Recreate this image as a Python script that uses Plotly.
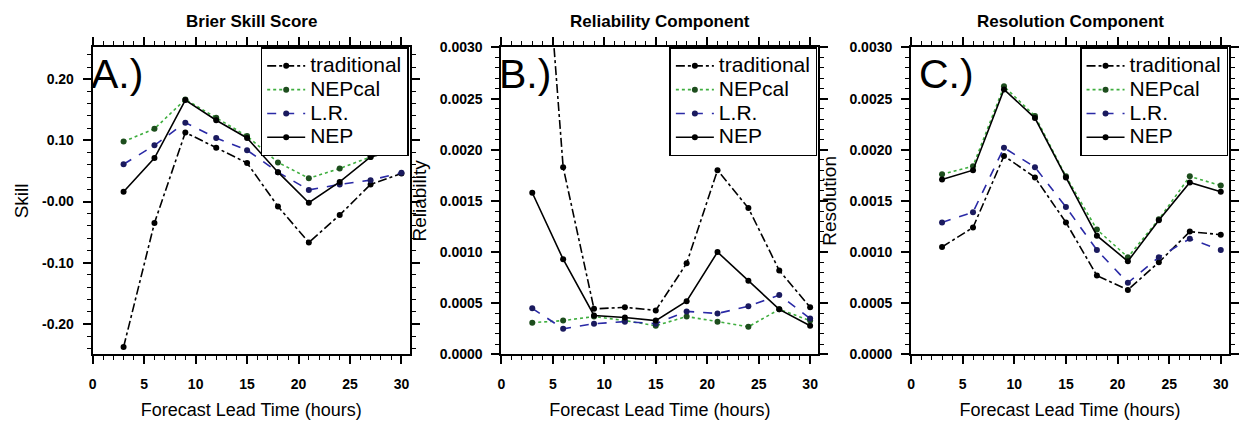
import plotly.graph_objects as go

hours = [3, 6, 9, 12, 15, 18, 21, 24, 27, 30]
series_names = ["traditional", "NEPcal", "L.R.", "NEP"]

bss_traditional = [-0.238, -0.035, 0.113, 0.088, 0.063, -0.008, -0.067, -0.022, 0.028, 0.046]
bss_nepcal = [0.098, 0.119, 0.167, 0.137, 0.107, 0.064, 0.038, 0.054, 0.073, 0.087]
bss_lr = [0.061, 0.092, 0.129, 0.104, 0.084, 0.048, 0.019, 0.028, 0.035, 0.047]
bss_nep = [0.016, 0.071, 0.166, 0.133, 0.104, 0.048, -0.002, 0.032, 0.073, 0.086]

rel_traditional = [0.0058, 0.00183, 0.000445, 0.00046, 0.00043, 0.00089, 0.0018, 0.00143, 0.00082, 0.00046]
rel_nepcal = [0.00031, 0.00033, 0.00037, 0.00033, 0.00028, 0.00037, 0.00032, 0.00027, 0.00044, 0.00033]
rel_lr = [0.00045, 0.00025, 0.00030, 0.00032, 0.00030, 0.00042, 0.00040, 0.00047, 0.00058, 0.00035]
rel_nep = [0.00158, 0.00093, 0.00038, 0.00036, 0.00033, 0.00052, 0.00100, 0.00072, 0.00044, 0.00028]

res_traditional = [0.00105, 0.00124, 0.00194, 0.00173, 0.00129, 0.00077, 0.00063, 0.00090, 0.00120, 0.00117]
res_nepcal = [0.00176, 0.00184, 0.00262, 0.00233, 0.00174, 0.00122, 0.00095, 0.00132, 0.00174, 0.00165]
res_lr = [0.00129, 0.00139, 0.00202, 0.00183, 0.00144, 0.00102, 0.00070, 0.00095, 0.00113, 0.00102]
res_nep = [0.00171, 0.00180, 0.00259, 0.00231, 0.00173, 0.00116, 0.00091, 0.00131, 0.00168, 0.00159]

panel_titles = ["Brier Skill Score", "Reliability Component", "Resolution Component"]
panel_labels = ["A.)", "B.)", "C.)"]
y_titles = ["Skill", "Reliability", "Resolution"]
x_title = "Forecast Lead Time (hours)"
x_tickvals = [0, 5, 10, 15, 20, 25, 30]
bss_tickvals = [-0.2, -0.1, 0.0, 0.1, 0.2]
bss_ticktext = ["-0.20", "-0.10", "-0.00", "0.10", "0.20"]
comp_tickvals = [0.0, 0.0005, 0.001, 0.0015, 0.002, 0.0025, 0.003]
comp_ticktext = ["0.0000", "0.0005", "0.0010", "0.0015", "0.0020", "0.0025", "0.0030"]

W, H = 1241, 423
FONT = "Liberation Sans, Arial, Helvetica, sans-serif"

# pixel geometry of plot areas
px_left = [89, 499, 910]
px_right = [407, 817, 1229]
px_top, px_bottom = 41, 360

styles = {
    "traditional": dict(color="#000000", dash="dashdot", mcolor="#000000"),
    "NEPcal": dict(color="#3fae3f", dash="dot", mcolor="#1d4d1d"),
    "L.R.": dict(color="#2a2aa6", dash="dash", mcolor="#1a1a5e"),
    "NEP": dict(color="#000000", dash="solid", mcolor="#000000"),
}

panels = [
    [bss_traditional, bss_nepcal, bss_lr, bss_nep],
    [rel_traditional, rel_nepcal, rel_lr, rel_nep],
    [res_traditional, res_nepcal, res_lr, res_nep],
]

LEGEND_TEXT_SIZE = 21

fig = go.Figure()
for p, data in enumerate(panels):
    ax = "" if p == 0 else str(p + 1)
    leg = "legend" if p == 0 else f"legend{p + 1}"
    for name, vals in zip(series_names, data):
        st = styles[name]
        fig.add_trace(go.Scatter(
            x=hours, y=vals,
            name=f"<span style='font-size:{LEGEND_TEXT_SIZE}px'>{name}</span>",
            mode="lines+markers",
            line=dict(color=st["color"], dash=st["dash"], width=1.6),
            marker=dict(symbol="circle", size=6, color=st["mcolor"]),
            xaxis="x" + ax, yaxis="y" + ax, legend=leg,
        ))

layout = dict(
    width=W, height=H, margin=dict(l=0, r=0, t=0, b=0),
    paper_bgcolor="white", plot_bgcolor="white",
    font=dict(family=FONT, color="black"),
    showlegend=True,
)

ydom = [1 - px_bottom / H, 1 - px_top / H]
annotations = []
for p in range(3):
    ax = "" if p == 0 else str(p + 1)
    xdom = [px_left[p] / W, px_right[p] / W]
    common = dict(
        showline=True, linecolor="black", linewidth=2, mirror="ticks",
        ticks="outside", ticklen=8, tickwidth=1.5, tickcolor="black",
        showgrid=False, zeroline=False,
        tickfont=dict(family=FONT, size=14, color="black", weight="bold"),
    )
    layout["xaxis" + ax] = dict(
        common, domain=xdom, range=[0, 30.8], tickvals=x_tickvals,
        minor=dict(dtick=1, tick0=0, ticks="outside", ticklen=4, tickcolor="black", tickwidth=1),
        anchor="y" + ax, ticklabelstandoff=8,
        title=dict(text=x_title, font=dict(family=FONT, size=18, color="black"), standoff=12),
    )
    if p == 0:
        yr = [-0.25, 0.252]
        tv, tt = bss_tickvals, bss_ticktext
        mdt = 0.02
    else:
        yr = [0, 0.003]
        tv, tt = comp_tickvals, comp_ticktext
        mdt = 0.0001
    layout["yaxis" + ax] = dict(
        common, domain=ydom, range=yr, tickvals=tv, ticktext=tt,
        minor=dict(dtick=mdt, tick0=0, ticks="outside", ticklen=4, tickcolor="black", tickwidth=1),
        anchor="x" + ax, ticklabelstandoff=6,
        title=dict(text=y_titles[p], font=dict(family=FONT, size=19, color="black"), standoff=8),
    )
    leg = "legend" if p == 0 else f"legend{p + 1}"
    layout[leg] = dict(
        x=(px_right[p] - 1) / W, xanchor="right", y=ydom[1], yanchor="top",
        xref="paper", yref="paper",
        bgcolor="white", bordercolor="black", borderwidth=1.5,
        font=dict(family=FONT, size=16, color="black"),
        itemwidth=38, tracegroupgap=0,
    )
    annotations.append(dict(
        text=panel_titles[p], x=(xdom[0] + xdom[1]) / 2, y=1 - 14 / H,
        xref="paper", yref="paper", xanchor="center", yanchor="middle",
        showarrow=False, font=dict(family=FONT, size=17, color="black", weight="bold"),
    ))
    annotations.append(dict(
        text=panel_labels[p], x=xdom[0], y=ydom[1], xref="paper", yref="paper",
        xanchor="left", yanchor="top", xshift=(-4 if p < 2 else 6), yshift=-2,
        showarrow=False, font=dict(family=FONT, size=41, color="black"),
    ))
layout["annotations"] = annotations
fig.update_layout(**layout)
fig.write_html("out.html")
